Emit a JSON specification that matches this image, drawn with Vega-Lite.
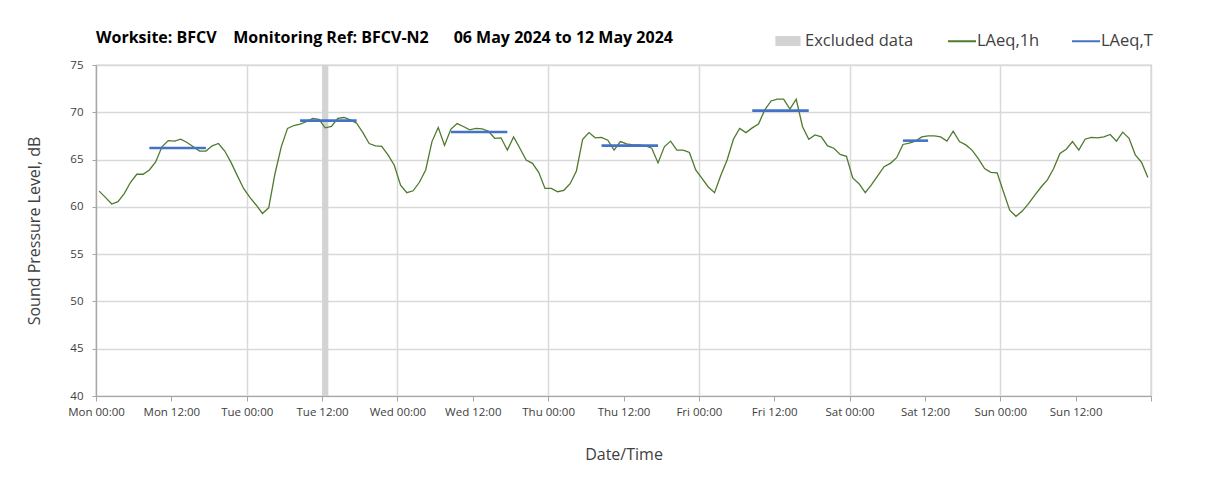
{
  "$schema": "https://vega.github.io/schema/vega-lite/v6.json",
  "width": 1055,
  "height": 331,
  "padding": {"left": 26, "top": 26, "right": 5, "bottom": 5},
  "background": "white",
  "title": {
    "text": "Worksite: BFCV\u00a0\u00a0\u00a0 Monitoring Ref: BFCV-N2\u00a0\u00a0\u00a0\u00a0\u00a0 06 May 2024 to 12 May 2024",
    "anchor": "start",
    "frame": "group",
    "font": "Open Sans",
    "fontSize": 16,
    "fontWeight": "bold",
    "color": "#000000",
    "offset": -20
  },
  "datasets": {
    "hourly": [
      {"h":0.5,"v":61.66},{"h":1.5,"v":61.0},{"h":2.5,"v":60.3},{"h":3.5,"v":60.55},{"h":4.5,"v":61.4},{"h":5.5,"v":62.6},
      {"h":6.5,"v":63.45},{"h":7.5,"v":63.45},{"h":8.5,"v":63.9},{"h":9.5,"v":64.75},{"h":10.5,"v":66.35},{"h":11.5,"v":67.0},
      {"h":12.5,"v":66.95},{"h":13.5,"v":67.15},{"h":14.5,"v":66.8},{"h":15.5,"v":66.35},{"h":16.5,"v":65.9},{"h":17.5,"v":65.9},
      {"h":18.5,"v":66.45},{"h":19.5,"v":66.7},{"h":20.5,"v":65.9},{"h":21.5,"v":64.7},{"h":22.5,"v":63.3},{"h":23.5,"v":61.95},
      {"h":24.5,"v":61.0},{"h":25.5,"v":60.2},{"h":26.5,"v":59.3},{"h":27.5,"v":59.9},{"h":28.5,"v":63.5},{"h":29.5,"v":66.35},
      {"h":30.5,"v":68.3},{"h":31.5,"v":68.6},{"h":32.5,"v":68.75},{"h":33.5,"v":69.0},{"h":34.5,"v":69.35},{"h":35.5,"v":69.25},
      {"h":36.5,"v":68.35},{"h":37.5,"v":68.5},{"h":38.5,"v":69.35},{"h":39.5,"v":69.45},{"h":40.5,"v":69.2},{"h":41.5,"v":68.85},
      {"h":42.5,"v":67.85},{"h":43.5,"v":66.7},{"h":44.5,"v":66.45},{"h":45.5,"v":66.4},{"h":46.5,"v":65.5},{"h":47.5,"v":64.4},
      {"h":48.5,"v":62.3},{"h":49.5,"v":61.5},{"h":50.5,"v":61.7},{"h":51.5,"v":62.6},{"h":52.5,"v":63.9},{"h":53.5,"v":66.9},
      {"h":54.5,"v":68.4},{"h":55.5,"v":66.5},{"h":56.5,"v":68.2},{"h":57.5,"v":68.8},{"h":58.5,"v":68.5},{"h":59.5,"v":68.15},
      {"h":60.5,"v":68.3},{"h":61.5,"v":68.25},{"h":62.5,"v":68.0},{"h":63.5,"v":67.25},{"h":64.5,"v":67.3},{"h":65.5,"v":66.0},
      {"h":66.5,"v":67.4},{"h":67.5,"v":66.2},{"h":68.5,"v":64.95},{"h":69.5,"v":64.6},{"h":70.5,"v":63.65},{"h":71.5,"v":61.95},
      {"h":72.5,"v":61.95},{"h":73.5,"v":61.6},{"h":74.5,"v":61.75},{"h":75.5,"v":62.45},{"h":76.5,"v":63.8},{"h":77.5,"v":67.15},
      {"h":78.5,"v":67.85},{"h":79.5,"v":67.3},{"h":80.5,"v":67.35},{"h":81.5,"v":67.05},{"h":82.5,"v":66.0},{"h":83.5,"v":66.9},
      {"h":84.5,"v":66.65},{"h":85.5,"v":66.55},{"h":86.5,"v":66.55},{"h":87.5,"v":66.45},{"h":88.5,"v":66.2},{"h":89.5,"v":64.65},
      {"h":90.5,"v":66.35},{"h":91.5,"v":66.95},{"h":92.5,"v":66.0},{"h":93.5,"v":66.0},{"h":94.5,"v":65.75},{"h":95.5,"v":63.9},
      {"h":96.5,"v":63.0},{"h":97.5,"v":62.1},{"h":98.5,"v":61.5},{"h":99.5,"v":63.35},{"h":100.5,"v":64.95},{"h":101.5,"v":67.15},
      {"h":102.5,"v":68.3},{"h":103.5,"v":67.85},{"h":104.5,"v":68.35},{"h":105.5,"v":68.75},{"h":106.5,"v":70.25},{"h":107.5,"v":71.2},
      {"h":108.5,"v":71.4},{"h":109.5,"v":71.4},{"h":110.5,"v":70.35},{"h":111.5,"v":71.4},{"h":112.5,"v":68.5},{"h":113.5,"v":67.15},
      {"h":114.5,"v":67.6},{"h":115.5,"v":67.4},{"h":116.5,"v":66.45},{"h":117.5,"v":66.2},{"h":118.5,"v":65.55},{"h":119.5,"v":65.35},
      {"h":120.5,"v":63.05},{"h":121.5,"v":62.45},{"h":122.5,"v":61.5},{"h":123.5,"v":62.35},{"h":124.5,"v":63.3},{"h":125.5,"v":64.25},
      {"h":126.5,"v":64.6},{"h":127.5,"v":65.2},{"h":128.5,"v":66.6},{"h":129.5,"v":66.75},{"h":130.5,"v":66.95},{"h":131.5,"v":67.4},
      {"h":132.5,"v":67.5},{"h":133.5,"v":67.5},{"h":134.5,"v":67.4},{"h":135.5,"v":66.95},{"h":136.5,"v":68.0},{"h":137.5,"v":66.9},
      {"h":138.5,"v":66.55},{"h":139.5,"v":66.0},{"h":140.5,"v":65.1},{"h":141.5,"v":64.05},{"h":142.5,"v":63.65},{"h":143.5,"v":63.6},
      {"h":144.5,"v":61.6},{"h":145.5,"v":59.65},{"h":146.5,"v":59.0},{"h":147.5,"v":59.55},{"h":148.5,"v":60.35},{"h":149.5,"v":61.25},
      {"h":150.5,"v":62.1},{"h":151.5,"v":62.85},{"h":152.5,"v":64.05},{"h":153.5,"v":65.65},{"h":154.5,"v":66.1},{"h":155.5,"v":66.9},
      {"h":156.5,"v":66.0},{"h":157.5,"v":67.15},{"h":158.5,"v":67.35},{"h":159.5,"v":67.3},{"h":160.5,"v":67.4},{"h":161.5,"v":67.65},
      {"h":162.5,"v":66.95},{"h":163.5,"v":67.9},{"h":164.5,"v":67.25},{"h":165.5,"v":65.5},{"h":166.5,"v":64.7},{"h":167.5,"v":63.1}
    ],
    "periods": [
      {"start":8.5,"end":17.5,"v":66.22},
      {"start":32.5,"end":41.5,"v":69.12},
      {"start":56.5,"end":65.5,"v":67.92},
      {"start":80.5,"end":89.5,"v":66.47},
      {"start":104.5,"end":113.5,"v":70.18},
      {"start":128.5,"end":132.5,"v":67.0}
    ],
    "excluded": [
      {"start":36,"end":37}
    ]
  },
  "layer": [
    {
      "data": {"name": "excluded"},
      "mark": {"type": "rect"},
      "encoding": {
        "x": {
          "field": "start",
          "type": "quantitative",
          "scale": {"domain": [0, 168], "nice": false, "zero": false},
          "axis": {
            "title": "Date/Time",
            "values": [0, 12, 24, 36, 48, 60, 72, 84, 96, 108, 120, 132, 144, 156, 168],
            "labelExpr": "datum.value >= 168 ? '' : ['Mon','Tue','Wed','Thu','Fri','Sat','Sun'][floor(datum.value / 24)] + (datum.value % 24 == 0 ? ' 00:00' : ' 12:00')",
            "labelOverlap": false,
            "labelFlush": false,
            "grid": true,
            "gridColor": {"condition": {"test": "datum.value % 24 == 0", "value": "#d9d9d9"}, "value": "rgba(0,0,0,0)"},
            "gridWidth": 1.5,
            "domainColor": "#a6a6a6",
            "domainWidth": 1.2,
            "tickColor": "#a6a6a6",
            "tickSize": 5,
            "labelFont": "Open Sans",
            "labelFontSize": 11.5,
            "labelColor": "#404040",
            "labelPadding": 5,
            "titleFont": "Open Sans",
            "titleFontSize": 16,
            "titleFontWeight": "normal",
            "titleColor": "#404040",
            "titlePadding": 29
          }
        },
        "x2": {"field": "end"},
        "y": {
          "datum": 75,
          "type": "quantitative",
          "scale": {"domain": [40, 75], "nice": false, "zero": false},
          "axis": {
            "title": "Sound Pressure Level, dB",
            "values": [40, 45, 50, 55, 60, 65, 70, 75],
            "grid": true,
            "gridColor": "#d9d9d9",
            "gridWidth": 1.5,
            "domainColor": "#a6a6a6",
            "domainWidth": 1.2,
            "tickColor": "#a6a6a6",
            "tickSize": 4,
            "labelFont": "Open Sans",
            "labelFontSize": 11.5,
            "labelColor": "#404040",
            "labelPadding": 9,
            "titleFont": "Open Sans",
            "titleFontSize": 16,
            "titleFontWeight": "normal",
            "titleColor": "#404040",
            "titlePadding": 27
          }
        },
        "y2": {"datum": 40},
        "fill": {
          "datum": "Excluded data",
          "type": "nominal",
          "scale": {"domain": ["Excluded data"], "range": ["#d3d3d3"]},
          "legend": {
            "orient": "none",
            "legendX": 677,
            "legendY": -39,
            "title": null,
            "symbolType": "M-0.9,-0.36H0.9V0.36H-0.9Z",
            "symbolSize": 784,
            "symbolOpacity": 1,
            "labelFont": "Open Sans",
            "labelFontSize": 16.5,
            "labelColor": "#404040",
            "labelOffset": 2
          }
        }
      }
    },
    {
      "data": {"name": "hourly"},
      "mark": {"type": "line", "strokeWidth": 1.3},
      "encoding": {
        "x": {"field": "h", "type": "quantitative"},
        "y": {"field": "v", "type": "quantitative"},
        "color": {
          "datum": "LAeq,1h",
          "type": "nominal",
          "scale": {"domain": ["LAeq,1h", "LAeq,T"], "range": ["#4e7a2e", "#4472c4"]},
          "legend": {
            "orient": "none",
            "legendX": 851,
            "legendY": -39,
            "direction": "horizontal",
            "title": null,
            "symbolType": "stroke",
            "symbolSize": 784,
            "symbolStrokeWidth": 2,
            "labelFont": "Open Sans",
            "labelFontSize": 16.5,
            "labelColor": "#404040",
            "columnPadding": 28,
            "labelOffset": 0
          }
        }
      }
    },
    {
      "data": {"name": "periods"},
      "mark": {"type": "rule", "strokeWidth": 2.6, "strokeCap": "butt"},
      "encoding": {
        "x": {"field": "start", "type": "quantitative"},
        "x2": {"field": "end"},
        "y": {"field": "v", "type": "quantitative"},
        "color": {"datum": "LAeq,T", "type": "nominal"}
      }
    }
  ],
  "config": {
    "view": {"stroke": "#a6a6a6", "strokeWidth": 1.2}
  }
}
